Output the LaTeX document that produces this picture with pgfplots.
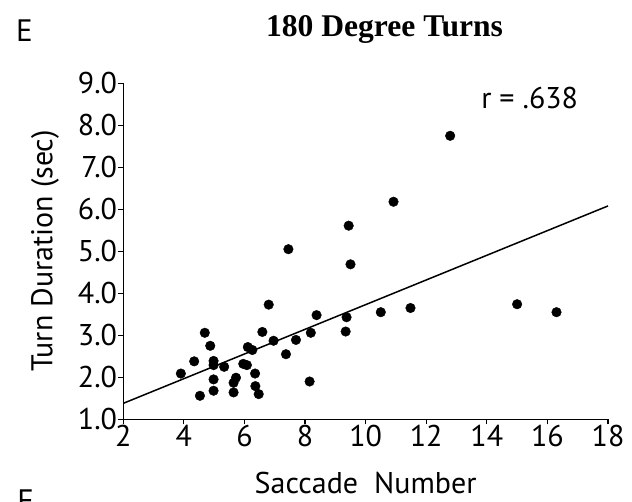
\documentclass[border=0pt]{standalone}
\usepackage{fontspec}
\setmainfont{PT Sans}
\newfontfamily\titlefont{Liberation Serif}
\usepackage{pgfplots}
\pgfplotsset{compat=1.18}
\begin{document}
\begin{tikzpicture}
\path[use as bounding box] (-123.3pt,-81.7pt) rectangle (508.7pt,419.3pt);
\begin{axis}[
  at={(0pt,0pt)}, anchor=south west,
  scale only axis,
  width=484.7pt, height=336pt,
  xmin=2, xmax=18, ymin=1, ymax=9,
  axis x line*=bottom, axis y line*=left,
  axis line style={line width=1.4pt, black},
  xtick={2,4,...,18}, ytick={1,2,...,9},
  tick align=outside,
  major tick length=5pt,
  tick style={line width=1.2pt, black},
  /pgf/number format/assume math mode=true,
  yticklabel style={/pgf/number format/fixed, /pgf/number format/fixed zerofill, /pgf/number format/precision=1, font=\fontsize{30}{32}\selectfont, inner sep=1pt},
  xticklabel style={font=\fontsize{30}{32}\selectfont, inner sep=1pt},
  xlabel={Saccade\ \ Number},
  ylabel={Turn Duration (sec)},
  xlabel style={font=\fontsize{30}{32}\selectfont, at={(axis description cs:0.5,-0.1896)}, anchor=center},
  ylabel style={font=\fontsize{30}{32}\selectfont, at={(axis description cs:-0.1615,0.501)}, anchor=center, rotate=0},
  clip=false,
]
\addplot[black, line width=1.5pt, no marks] coordinates {(2,1.38) (18,6.08)};
\addplot[only marks, mark=*, mark size=4.8pt, black] coordinates {
(3.90,2.09) (4.34,2.38) (4.69,3.06) (4.53,1.56) (4.87,2.75)
(4.98,2.39) (4.98,2.29) (4.98,1.95) (4.98,1.68) (5.33,2.25)
(5.64,1.87) (5.72,1.99) (5.64,1.64) (5.96,2.32) (6.08,2.29)
(6.11,2.72) (6.26,2.65) (6.35,2.09) (6.36,1.79) (6.47,1.60)
(6.59,3.08) (6.80,3.73) (6.96,2.87) (7.37,2.55) (7.70,2.89)
(8.15,1.90) (8.19,3.06) (8.38,3.48) (9.37,3.43) (9.34,3.09)
(10.50,3.55) (12.79,7.75) (10.92,6.18) (9.44,5.61) (9.50,4.69)
(11.48,3.65) (15.0,3.74) (16.30,3.55) (7.45,5.05)
};
\node[anchor=base west, inner sep=0pt, font=\fontsize{30}{32}\selectfont] at (axis cs:13.81,8.405) {r = .638};
\end{axis}
\node[anchor=base, inner sep=0pt, font=\titlefont\bfseries\fontsize{31.6}{34}\selectfont] at (261.2pt,382.3pt) {180 Degree Turns};
\node[anchor=base west, inner sep=0pt, font=\fontsize{31}{33}\selectfont] at (-107.3pt,377.6pt) {E};
\node[anchor=base west, inner sep=0pt, font=\fontsize{31}{33}\selectfont] at (-106pt,-91.7pt) {F};
\end{tikzpicture}
\end{document}
